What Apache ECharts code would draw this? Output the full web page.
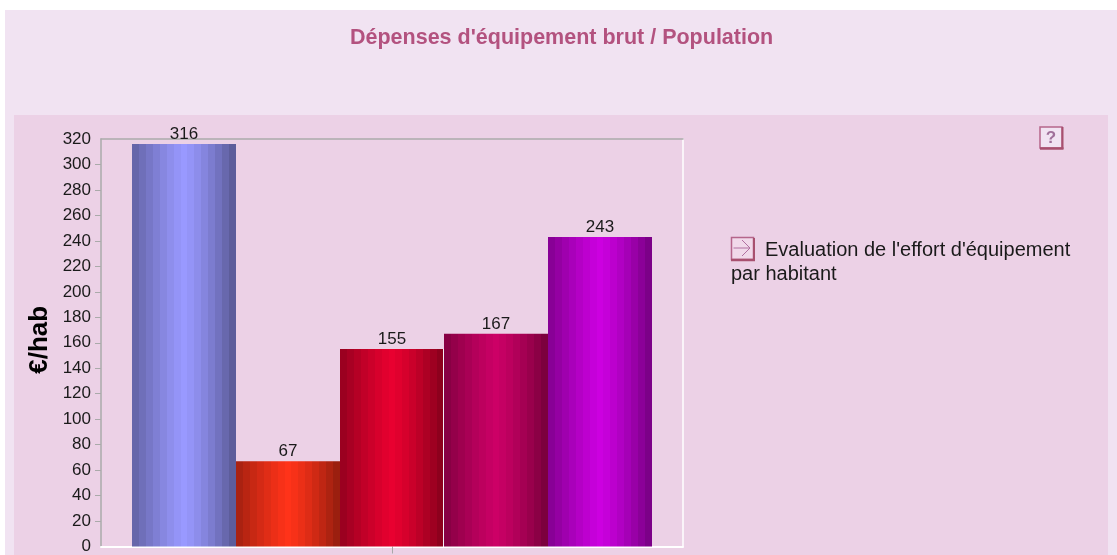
<!DOCTYPE html>
<html><head><meta charset="utf-8">
<style>html,body{margin:0;padding:0;background:#fff;overflow:hidden}#c{width:1117px;height:555px}</style>
<script src="https://cdn.jsdelivr.net/npm/echarts@6/dist/echarts.min.js"></script>
</head><body><div id="c"></div>
<script>
const categories = [''];
const seriesNames = ['A','B','C','D','E'];
const seriesValues = [316, 67, 155, 167, 243];
const seriesColors = ['#9999ff','#ff3319','#e80030','#cc0066','#cc00e0'];
const tickValues = [20,40,60,80,100,120,140,160,180,200,220,240,260,280,300];
const titleText = "Dépenses d'équipement brut / Population";
const yName = '€/hab';
const noteLine1 = "Evaluation de l'effort d'équipement";
const noteLine2 = 'par habitant';

function shade(hex, f){
  const n = parseInt(hex.slice(1),16);
  const c = [n>>16&255, n>>8&255, n&255].map(v=>Math.round(v*f));
  return 'rgb('+c.join(',')+')';
}
function bands(hex, whiteEdge){
  const N = 15, stops = [];
  const peak = 0.5;
  for(let i=0;i<N;i++){
    const p = (i+0.5)/N;
    const d = Math.abs(p-peak)/0.5;
    const f = 1 - 0.36*Math.pow(d,1.2) - (p>peak ? 0.07*d*d : 0);
    stops.push({offset:i/N,color:shade(hex,f)});
    stops.push({offset:(i+1)/N,color:shade(hex,f)});
  }
  if(whiteEdge){
    stops[stops.length-1] = {offset:0.99,color:stops[stops.length-1].color};
    stops.push({offset:0.99,color:'#f6ecf4'},{offset:1,color:'#f6ecf4'});
  }
  return {type:'linear',x:0,y:0,x2:1,y2:0,colorStops:stops};
}
const font = '"Liberation Sans", Arial, sans-serif';
const chart = echarts.init(document.getElementById('c'),null,{renderer:'canvas'});
const iconEdge = '#a8506f';
chart.setOption({
  animation:false,
  textStyle:{fontFamily:font},
  title:{text:titleText,left:345,top:22,itemGap:0,
    textStyle:{color:'#b3527f',fontSize:21.5,fontWeight:'bold',fontFamily:font}},
  grid:{left:101,right:434,top:139,bottom:8,containLabel:false},
  xAxis:[
    {type:'category',data:categories,position:'bottom',
      axisLine:{show:true,onZero:false,lineStyle:{color:'#ffffff',width:2}},
      axisTick:{show:true,alignWithLabel:true,length:7,lineStyle:{color:'#a8a8a8'}},
      axisLabel:{show:false},splitLine:{show:false}},
    {type:'category',data:categories,position:'top',
      axisLine:{show:true,onZero:false,lineStyle:{color:'#aaaaaa',width:1.5}},
      axisTick:{show:false},axisLabel:{show:false},splitLine:{show:false}}
  ],
  yAxis:[
    {type:'value',min:0,max:320,interval:20,position:'left',
      name:yName,nameLocation:'middle',nameGap:48,nameRotate:90,nameMoveOverlap:false,
      nameTextStyle:{fontSize:26,fontWeight:'bold',color:'#000',fontFamily:font,padding:[0,0,0,6]},
      axisLine:{show:true,onZero:false,lineStyle:{color:'#aaaaaa',width:1.5}},
      axisTick:{show:true,length:6,customValues:tickValues,lineStyle:{color:'#aaaaaa'}},
      axisLabel:{fontSize:17,color:'#1a1a1a',margin:10,padding:[4,0,0,0],fontFamily:font},
      splitLine:{show:false}},
    {type:'value',min:0,max:320,interval:320,position:'right',
      axisLine:{show:true,onZero:false,lineStyle:{color:'#ffffff',width:1.5}},
      axisTick:{show:false},axisLabel:{show:false},splitLine:{show:false}}
  ],
  series:seriesNames.map((name,i)=>({
    name,type:'bar',data:[seriesValues[i]],barWidth:104,barGap:0,
    itemStyle:{color:bands(seriesColors[i], i===2)},
    label:{show:true,position:'top',distance:1,fontSize:17,color:'#1a1a1a',fontFamily:font},
    z:3
  })),
  graphic:[
    {type:'rect',z:-10,silent:true,shape:{x:5,y:10,width:1112,height:545},style:{fill:'#f1e3f2'}},
    {type:'rect',z:-9,silent:true,shape:{x:14,y:115,width:1094,height:440},style:{fill:'#ecd1e6'}},
    // help icon
    {type:'rect',z:5,silent:true,shape:{x:1040,y:127,width:22,height:21},style:{fill:'#f1e3f2',stroke:'#b5668b',lineWidth:1.5}},
    {type:'line',z:5,silent:true,shape:{x1:1040,y1:148.5,x2:1063.5,y2:148.5},style:{stroke:iconEdge,lineWidth:2.5}},
    {type:'line',z:5,silent:true,shape:{x1:1062.5,y1:127,x2:1062.5,y2:149},style:{stroke:iconEdge,lineWidth:2}},
    {type:'text',z:6,silent:true,style:{x:1051,y:138,text:'?',font:'bold 17px '+font,fill:'#a0709a',align:'center',verticalAlign:'middle'}},
    // arrow icon
    {type:'rect',z:5,silent:true,shape:{x:731.5,y:237.5,width:22,height:22},style:{fill:'#f1d9ea',stroke:'#b5668b',lineWidth:1.5}},
    {type:'line',z:5,silent:true,shape:{x1:731,y1:260,x2:755,y2:260},style:{stroke:iconEdge,lineWidth:2.5}},
    {type:'line',z:5,silent:true,shape:{x1:754,y1:238,x2:754,y2:261},style:{stroke:iconEdge,lineWidth:2}},
    {type:'line',z:5,silent:true,shape:{x1:733.5,y1:248,x2:750,y2:248},style:{stroke:'#b070a0',lineWidth:1}},
    {type:'polyline',z:5,silent:true,shape:{points:[[742,240],[750,248],[742,256]]},style:{stroke:'#b070a0',fill:'none',lineWidth:1}},
    {type:'text',z:6,silent:true,style:{x:765,y:250,text:noteLine1,font:'20px '+font,fill:'#1a1a1a',verticalAlign:'middle'}},
    {type:'text',z:6,silent:true,style:{x:731,y:274,text:noteLine2,font:'20px '+font,fill:'#1a1a1a',verticalAlign:'middle'}}
  ]
});
</script></body></html>
